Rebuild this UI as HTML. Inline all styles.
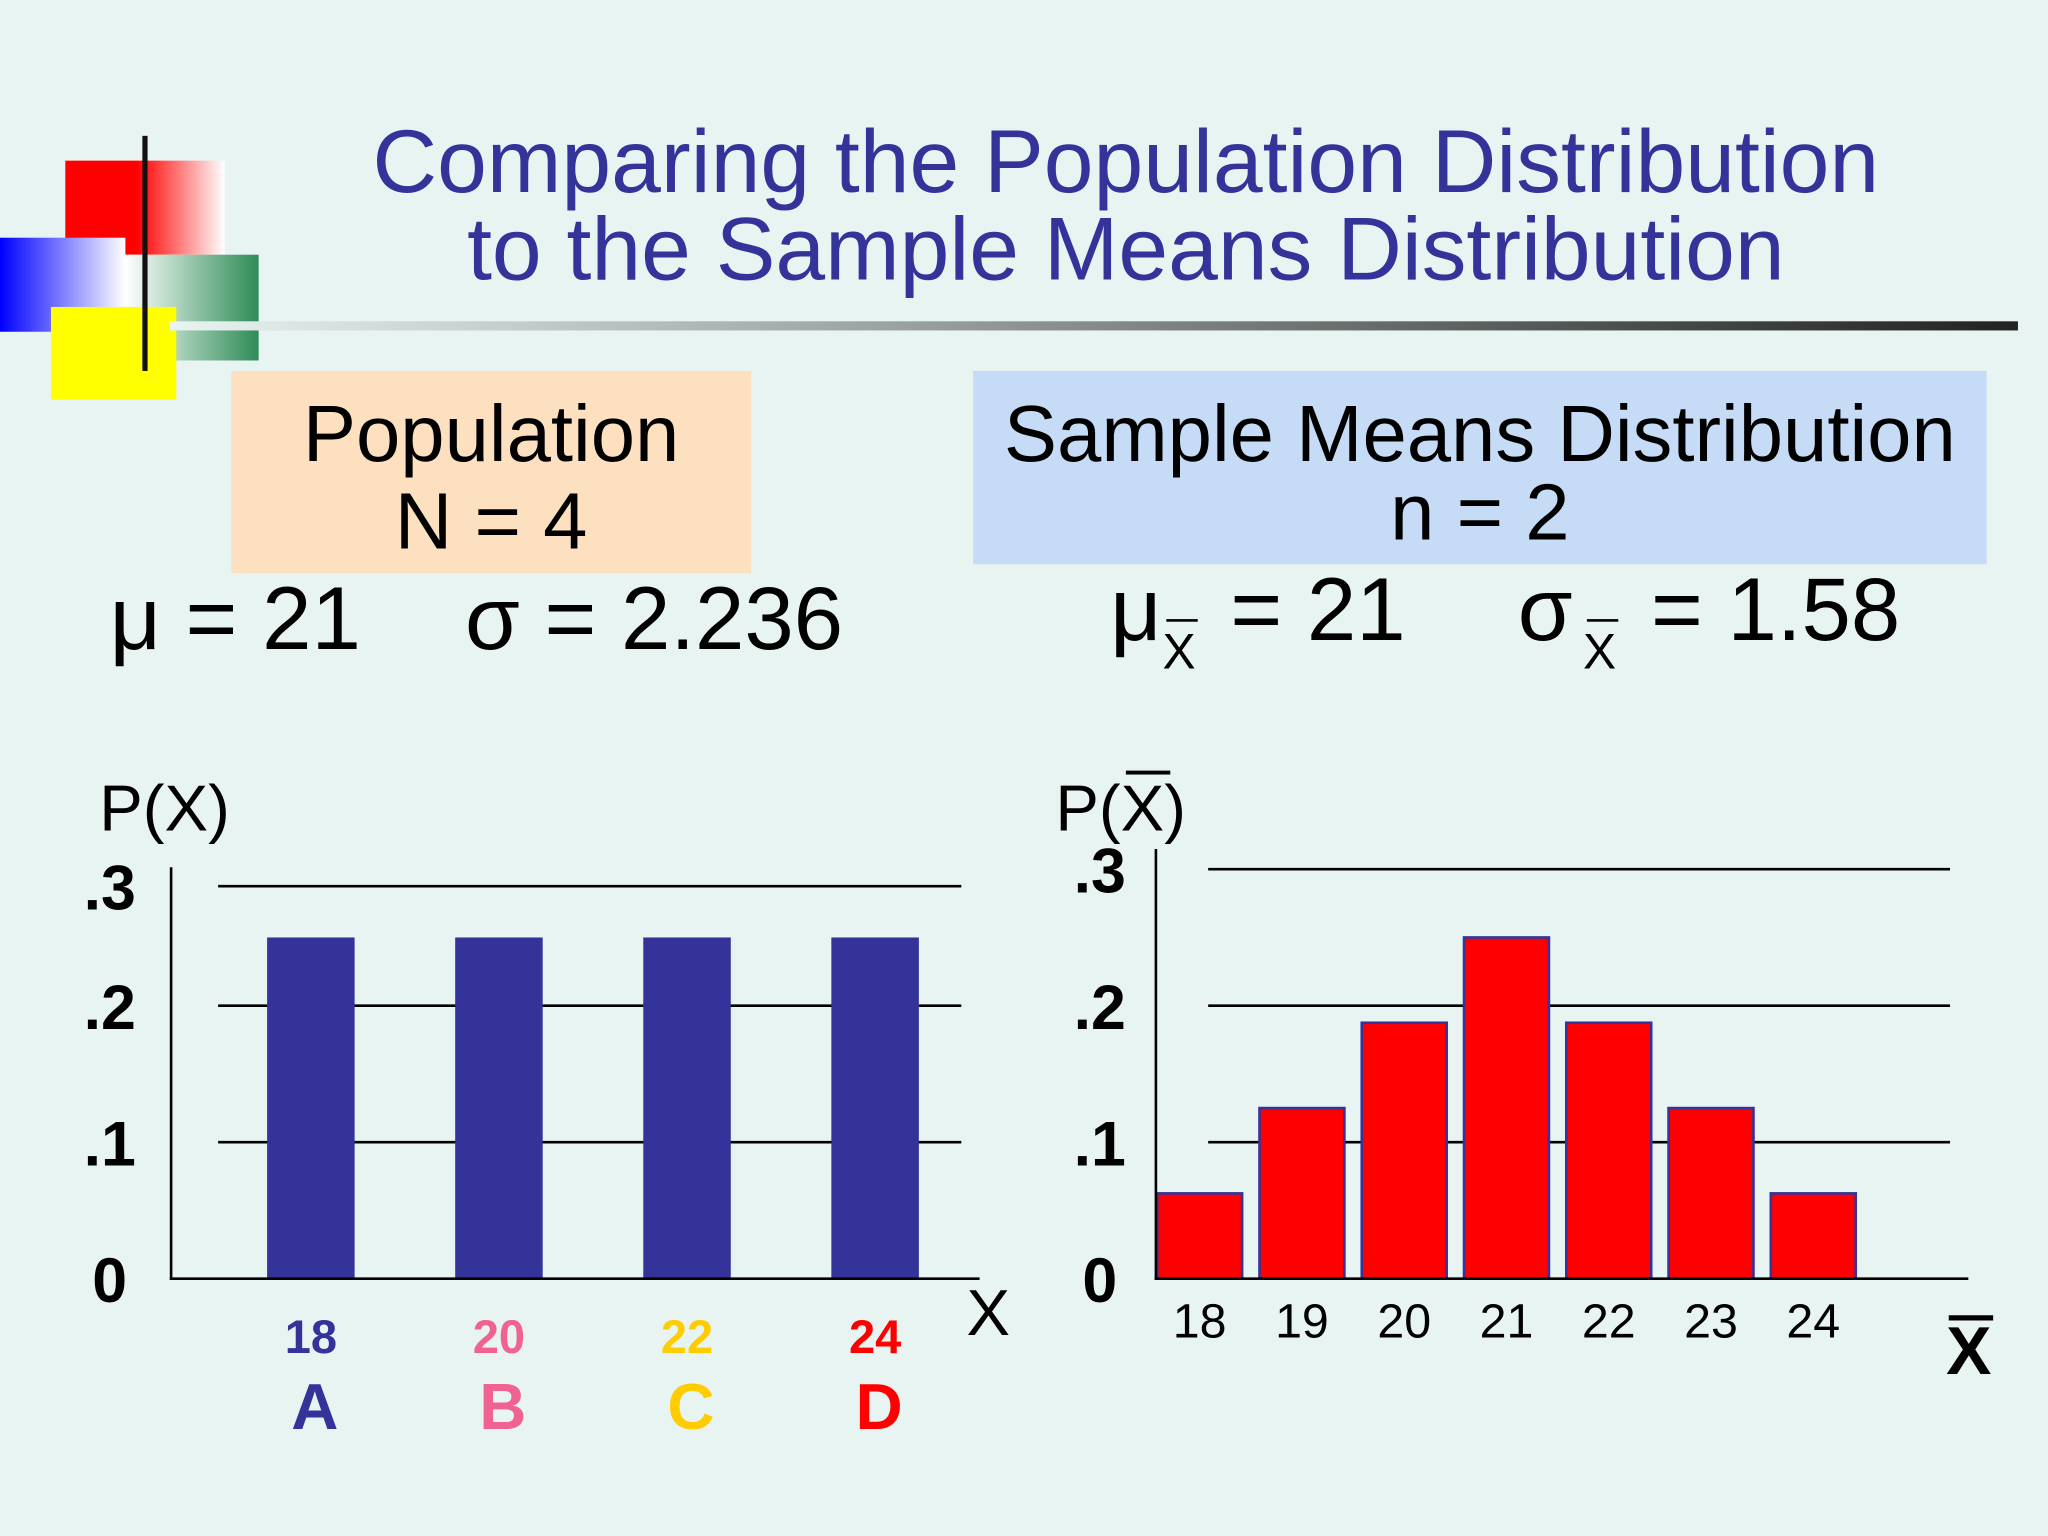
<!DOCTYPE html>
<html><head><meta charset="utf-8"><style>
html,body{margin:0;padding:0;background:#e8f4f2}
svg{display:block}
text{font-family:"Liberation Sans",Arial,sans-serif}
</style></head><body>
<svg width="2048" height="1536" viewBox="0 0 1568 1176">
<defs>
<linearGradient id="gr" x1="0" x2="1"><stop offset="0.45" stop-color="#f00"/><stop offset="1" stop-color="#fff"/></linearGradient>
<linearGradient id="gb" x1="0" x2="1"><stop offset="0" stop-color="#00f"/><stop offset="1" stop-color="#fff"/></linearGradient>
<linearGradient id="gg" x1="0" x2="1"><stop offset="0" stop-color="#fff"/><stop offset="1" stop-color="#2e8b57"/></linearGradient>
<linearGradient id="gl" x1="0" x2="1"><stop offset="0" stop-color="#e8f4f2"/><stop offset="1" stop-color="#222"/></linearGradient>
</defs>
<rect width="1568" height="1176" fill="#e8f4f2"/>
<g>
<rect x="50" y="123" width="122" height="72" fill="url(#gr)"/>
<rect x="0" y="182" width="96" height="72" fill="url(#gb)"/>
<rect x="96" y="195" width="102" height="81" fill="url(#gg)"/>
<rect x="39" y="235" width="96" height="71" fill="#ff0"/>
<rect x="109" y="104" width="4" height="180" fill="#111"/>
</g>
<rect x="130" y="246" width="1415" height="7" fill="url(#gl)"/>
<text x="862" y="147" font-size="68.5" fill="#333399" text-anchor="middle">Comparing the Population Distribution</text>
<text x="862" y="214" font-size="68.5" fill="#333399" text-anchor="middle">to the Sample Means Distribution</text>
<rect x="177" y="284" width="398" height="155" fill="#fde0c0"/>
<text x="376" y="353" font-size="61" text-anchor="middle">Population</text>
<text x="376" y="420" font-size="61" text-anchor="middle">N = 4</text>
<rect x="745" y="284" width="776" height="148" fill="#c6dbf5"/>
<text x="1133" y="353" font-size="61" text-anchor="middle">Sample Means Distribution</text>
<text x="1133" y="413" font-size="61" text-anchor="middle">n = 2</text>
<text x="84" y="497" font-size="68">μ = 21</text>
<text x="356" y="497" font-size="68">σ = 2.236</text>
<g><text x="850" y="490" font-size="68">μ</text><text x="890" y="512" font-size="38">X</text><rect x="893" y="474" width="24" height="2" fill="#000"/><text x="942" y="490" font-size="68">= 21</text></g>
<g><text x="1162" y="490" font-size="68">σ</text><text x="1212" y="512" font-size="38">X</text><rect x="1215" y="474" width="24" height="2" fill="#000"/><text x="1264" y="490" font-size="68">= 1.58</text></g>
<g id="left"></g>
<g id="right"></g>
</svg>
<script>
const popCats=[18,20,22,24];
const popVals=[0.25,0.25,0.25,0.25];
const popLetters=["A","B","C","D"];
const popColors=["#333399","#f06292","#ffcc00","#ff0000"];
const smCats=[18,19,20,21,22,23,24];
const smVals=[0.0625,0.125,0.1875,0.25,0.1875,0.125,0.0625];
const yTicks=[0,0.1,0.2,0.3];
const yTickLabels=["0",".1",".2",".3"];
const NS="http://www.w3.org/2000/svg";
function mk(p,t,a,txt){const e=document.createElementNS(NS,t);for(const k in a)e.setAttribute(k,a[k]);if(txt!==undefined)e.textContent=txt;p.appendChild(e);return e;}
const y=v=>979-v*1045;
const L=document.getElementById('left');
const lx=i=>238+i*144;
const ly=v=>v>0.28?y(v)+13:y(v);
yTicks.forEach((t,i)=>{if(t>0){const g=mk(L,'line',{x1:167,x2:736,y1:ly(t),y2:ly(t),stroke:'#000','stroke-width':2});}
const tl=mk(L,'text',{x:84,y:ly(t)+18,'font-size':48,'font-weight':'bold','text-anchor':'middle'},yTickLabels[i]);});
popVals.forEach((v,i)=>{const b=mk(L,'rect',{x:lx(i)-33.5,y:y(v),width:67,height:979-y(v),fill:'#333399'});
const c=mk(L,'text',{x:lx(i),y:1036,'font-size':36,'font-weight':'bold',fill:popColors[i],'text-anchor':'middle'},popCats[i]);
const l=mk(L,'text',{x:lx(i)+3,y:1094,'font-size':50,'font-weight':'bold',fill:popColors[i],'text-anchor':'middle'},popLetters[i]);});
let e=mk(L,'line',{x1:131,x2:131,y1:664,y2:980,stroke:'#000','stroke-width':2});
e=mk(L,'line',{x1:130,x2:750,y1:979,y2:979,stroke:'#000','stroke-width':2});
e=mk(L,'text',{x:76,y:636,'font-size':50},'P(X)');
e=mk(L,'text',{x:740,y:1022,'font-size':50},'X');
const R=document.getElementById('right');
const rx=i=>918.5+i*78.3;
yTicks.forEach((t,i)=>{if(t>0){const g=mk(R,'line',{x1:925,x2:1493,y1:y(t),y2:y(t),stroke:'#000','stroke-width':2});}
const tl=mk(R,'text',{x:842,y:y(t)+18,'font-size':48,'font-weight':'bold','text-anchor':'middle'},yTickLabels[i]);});
smVals.forEach((v,i)=>{const b=mk(R,'rect',{x:rx(i)-32.5,y:y(v),width:65,height:979-y(v),fill:'#ff0000',stroke:'#333399','stroke-width':2});
const c=mk(R,'text',{x:rx(i),y:1024,'font-size':37,'text-anchor':'middle'},smCats[i]);});
e=mk(R,'line',{x1:885,x2:885,y1:650,y2:980,stroke:'#000','stroke-width':2});
e=mk(R,'line',{x1:884,x2:1507,y1:979,y2:979,stroke:'#000','stroke-width':2});
e=mk(R,'text',{x:808,y:636,'font-size':50},'P(X)');
e=mk(R,'rect',{x:862,y:590,width:34,height:3,fill:'#000'});
e=mk(R,'text',{x:1490,y:1052,'font-size':52,'font-weight':'bold'},'X');
e=mk(R,'rect',{x:1492,y:1007,width:34,height:4,fill:'#000'});
</script>
</body></html>
